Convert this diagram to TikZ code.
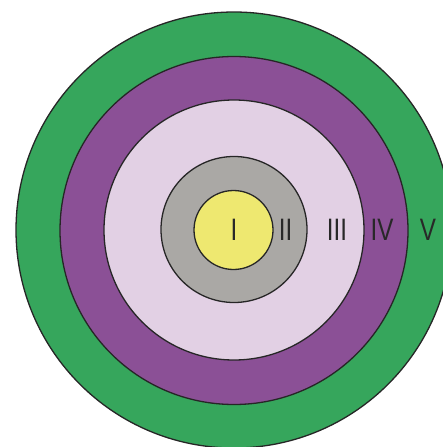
\documentclass[tikz,border=0pt]{standalone}
\usepackage{fontspec}
\setmainfont{Liberation Sans}
\newfontfamily\labfont[FakeStretch=0.78]{Liberation Sans}
\definecolor{ringV}{RGB}{54,166,92}
\definecolor{ringIV}{RGB}{139,80,150}
\definecolor{ringIII}{RGB}{226,208,228}
\definecolor{ringII}{RGB}{170,168,165}
\definecolor{ringI}{RGB}{238,232,112}
\definecolor{labtxt}{RGB}{40,40,40}
\begin{document}
\begin{tikzpicture}[x=1pt,y=-1pt,
  ring/.style={circle, draw=black!85, line width=1.3pt, inner sep=0pt},
  lab/.style={text=labtxt, font=\labfont\fontsize{31}{31}\selectfont, inner sep=0pt, anchor=center}]
\useasboundingbox (0,0) rectangle (443,447);
\clip (0,0) rectangle (443,447);
\fill[white] (0,0) rectangle (443,447);
\node[ring, fill=ringV, minimum size=436pt] (c5) at (234,230) {};
\node[ring, fill=ringIV, minimum size=348pt] (c4) at (234,230.5) {};
\node[ring, fill=ringIII, minimum size=260pt] (c3) at (234,230) {};
\node[ring, fill=ringII, minimum size=146pt] (c2) at (234,229.5) {};
\node[ring, fill=ringI, minimum size=79pt] (c1) at (233.5,230) {};
\node[lab] (l1) at (234,230) {I};
\node[lab] (l2) at (285.5,230) {II};
\node[lab] (l3) at (337,230) {III};
\node[lab] (l4) at (382,230) {IV};
\node[lab] (l5) at (428,230) {V};
\end{tikzpicture}
\end{document}
